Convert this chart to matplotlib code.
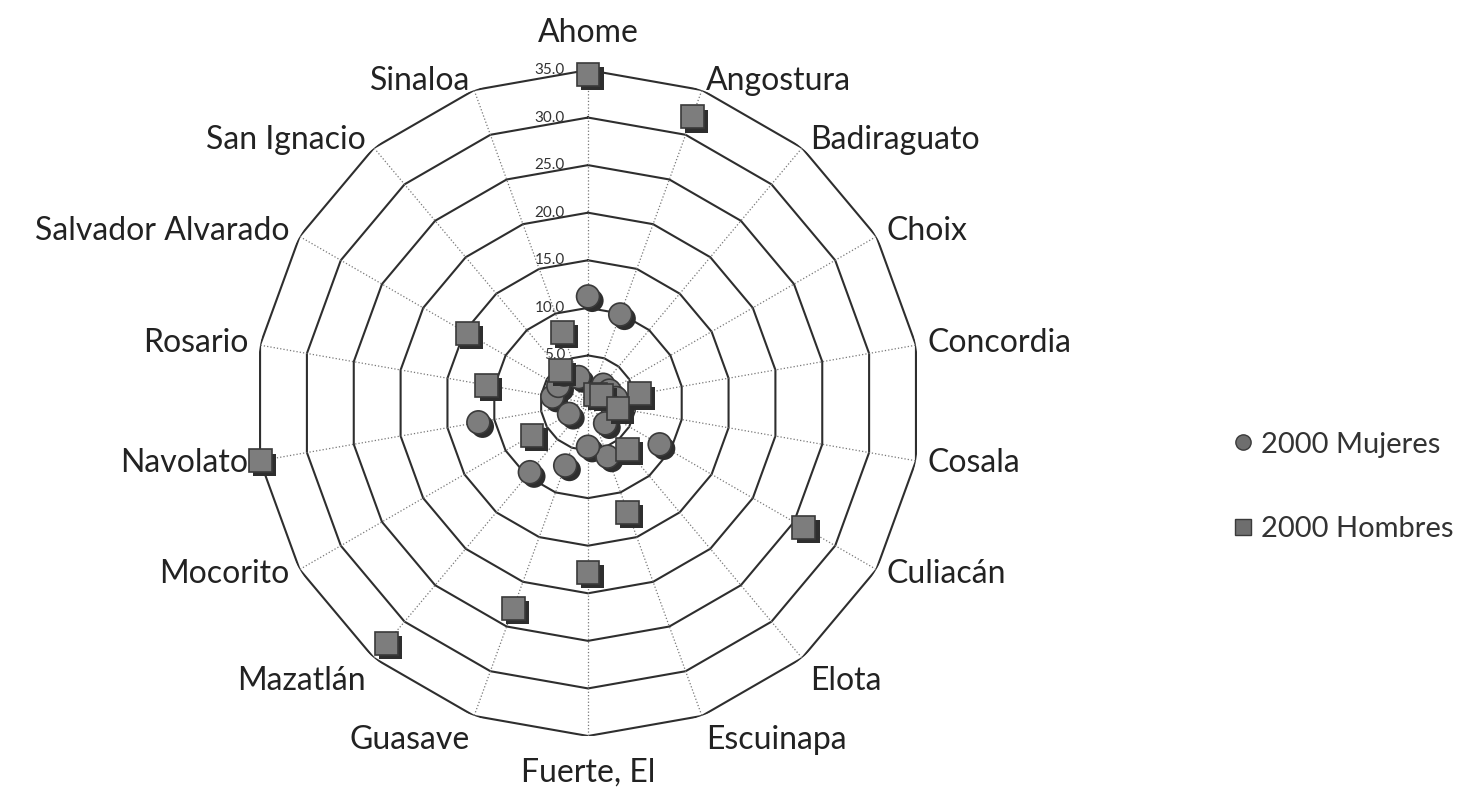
import numpy as np
import matplotlib
matplotlib.use("Agg")
import matplotlib.pyplot as plt
import matplotlib.patheffects as pe
from matplotlib.lines import Line2D

plt.rcParams['font.family'] = ['Lato', 'DejaVu Sans']

# municipios, clockwise from the top
categories = ['Ahome', 'Angostura', 'Badiraguato', 'Choix', 'Concordia', 'Cosala',
              'Culiacán', 'Elota', 'Escuinapa', 'Fuerte, El', 'Guasave', 'Mazatlán',
              'Mocorito', 'Navolato', 'Rosario', 'Salvador Alvarado', 'San Ignacio',
              'Sinaloa']
mujeres = [11.2, 9.9, 2.5, 2.6, 3.0, 2.6, 8.7, 2.8, 6.0, 4.6, 7.0, 9.5,
           2.3, 11.7, 3.8, 3.6, 3.9, 2.9]
hombres = [34.5, 32.0, 1.2, 1.6, 5.5, 3.2, 26.2, 6.4, 12.2, 17.8, 23.0, 33.0,
           6.8, 35.0, 10.8, 14.6, 4.5, 7.9]
ring_values = [5, 10, 15, 20, 25, 30, 35]

fig = plt.figure(figsize=(14.68, 7.98), dpi=100)
ax = fig.add_axes([0.1737, 0.0777, 0.4537, 0.8346], projection='polar')
ax.set_theta_zero_location('N')
ax.set_theta_direction(-1)
ax.set_ylim(0, 35)
ax.grid(False)
ax.spines['polar'].set_visible(False)
ax.set_xticks([])
ax.set_yticks([])

theta = np.linspace(0, 2 * np.pi, len(categories), endpoint=False)
closed = np.append(theta, theta[0])

# polygon rings
for r in ring_values:
    ax.plot(closed, [r] * len(closed), color='#2e2e2e', lw=1.5, zorder=1)
    ax.annotate(f'{r:.1f}', xy=(0, r), xytext=(-23, 0), textcoords='offset pixels',
                ha='right', va='center', fontsize=11, color='#333333', zorder=2)

# spokes
for t in theta:
    ax.plot([t, t], [0, 35], color='#777777', lw=0.9, ls=':', zorder=1)

# category labels
for t, name in zip(theta, categories):
    s, c = np.sin(t), np.cos(t)
    ha = 'left' if s > 0.1 else ('right' if s < -0.1 else 'center')
    dy = 10 * c
    if c > 0.97:
        va, dy = 'bottom', 22
    elif c < -0.97:
        va, dy = 'top', -22
    elif c < -0.7:
        va = 'top'
    else:
        va = 'center'
    ax.annotate(name, xy=(t, 35), xytext=(12 * s, dy), textcoords='offset pixels',
                ha=ha, va=va, fontsize=23, color='#222222', annotation_clip=False)

shadow = [pe.SimplePatchShadow(offset=(3, -3), shadow_rgbFace='#2e2e2e', alpha=1.0),
          pe.Normal()]
ax.plot(theta, mujeres, ls='none', marker='o', ms=16.5, mfc='#7d7d7d', mec='#3a3a3a',
        mew=1.2, clip_on=False, zorder=3, path_effects=shadow)
ax.plot(theta, hombres, ls='none', marker='s', ms=16.5, mfc='#7d7d7d', mec='#3a3a3a',
        mew=1.2, clip_on=False, zorder=4, path_effects=shadow)

handles = [Line2D([], [], ls='none', marker='o', ms=11, mfc='#6e6e6e', mec='#3a3a3a'),
           Line2D([], [], ls='none', marker='s', ms=11, mfc='#6e6e6e', mec='#3a3a3a')]
fig.legend(handles, ['2000 Mujeres', '2000 Hombres'], loc='center left',
           bbox_to_anchor=(0.817, 0.39), frameon=False, fontsize=21,
           labelspacing=2.0, handletextpad=0.0, handlelength=1.2,
           labelcolor='#333333')

fig.savefig('out.png', dpi=100, facecolor='white')
